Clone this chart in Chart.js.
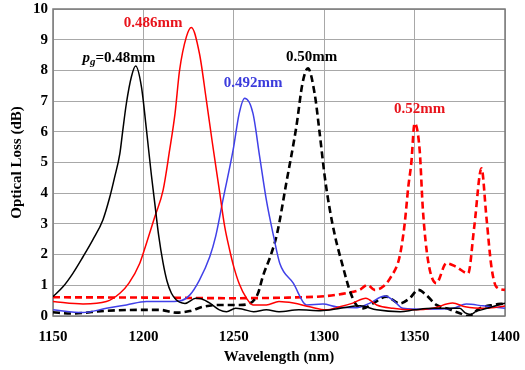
<!DOCTYPE html>
<html>
<head>
<meta charset="utf-8">
<script src="https://cdn.jsdelivr.net/npm/chart.js@4/dist/chart.umd.min.js"></script>
<style>
html,body{margin:0;padding:0;background:#fff;}
#c{display:block;}
</style>
</head>
<body>
<canvas id="c" width="525" height="370"></canvas>
<script>
// ---- data ----
const xTicks = [1150, 1200, 1250, 1300, 1350, 1400];
const yTicks = [0,1,2,3,4,5,6,7,8,9,10];

const wl048   = [1150,1155.5,1161,1166.6,1172,1177.6,1181.3,1184,1187,1188.5,1190.6,1193.4,1195.7,1198.9,1201.7,1204.4,1206.3,1208.5,1210.9,1213,1215.5,1218.3,1220,1223,1229,1232,1237,1242,1246,1251,1255,1261,1268,1275,1286,1298,1309,1320,1329,1342,1350,1360,1375,1378,1381,1384,1387,1393,1400];
const loss048 = [0.63,0.95,1.39,1.93,2.48,3.13,3.85,4.5,5.3,6.0,6.93,7.8,8.14,7.47,6.06,4.6,3.67,2.6,1.72,1.15,0.74,0.52,0.45,0.41,0.58,0.56,0.41,0.2,0.14,0.25,0.22,0.14,0.2,0.14,0.2,0.17,0.25,0.33,0.2,0.14,0.2,0.25,0.25,0.1,0.05,0.15,0.2,0.3,0.42];

const wl0486   = [1150,1166.6,1179.5,1187,1192,1198,1201.7,1206.3,1210.9,1214.5,1217.5,1220,1223.8,1226.5,1231,1234.8,1238,1242,1245,1247.7,1250,1253,1257,1260.6,1268,1275,1283,1292,1301,1308.6,1315.8,1323,1329,1338,1349.5,1360,1371,1378,1389.7,1400];
const loss0486 = [0.47,0.39,0.47,0.74,1.07,1.72,2.37,3.23,4.1,5.4,6.6,8.0,9.1,9.4,8.55,7.04,5.7,4.1,2.9,2.15,1.6,1.05,0.58,0.36,0.36,0.47,0.42,0.3,0.2,0.3,0.42,0.58,0.36,0.25,0.2,0.25,0.42,0.3,0.25,0.33];

const wl0492   = [1150,1166.6,1179.5,1190.6,1201.7,1212.7,1220,1225.6,1231,1236.7,1240,1244,1249.6,1253,1256,1260.6,1264.3,1268,1272,1275.4,1282.9,1290.2,1299.3,1306.7,1317.8,1325,1333.5,1338,1343.6,1356.5,1371,1378.6,1387.8,1400];
const loss0492 = [0.2,0.11,0.25,0.36,0.47,0.47,0.49,0.68,1.17,1.93,2.6,3.78,5.4,6.6,7.09,6.6,5.19,3.78,2.6,1.72,1.07,0.36,0.39,0.3,0.27,0.41,0.65,0.52,0.25,0.22,0.25,0.39,0.33,0.25];

const wl050   = [1150,1160,1179.5,1198,1209,1218,1225.6,1233,1242,1253,1258.8,1263.4,1266,1270.8,1274,1279,1284.6,1288,1291,1294.7,1297.5,1300.3,1303,1306,1310.4,1314,1317.8,1321.5,1327,1334.4,1341.7,1347.3,1352,1356.5,1362,1367.6,1375,1379.6,1386,1393.4,1400];
const loss050 = [0.12,0.08,0.17,0.2,0.2,0.11,0.16,0.3,0.36,0.36,0.41,0.74,1.28,2.04,2.7,4.32,6.17,7.58,8.07,7.25,5.95,4.54,3.5,2.6,1.6,0.85,0.36,0.25,0.41,0.63,0.41,0.58,0.85,0.68,0.36,0.25,0.09,0.0,0.25,0.36,0.41];

const wl052   = [1150,1200,1250,1280,1301,1312,1319.6,1324,1327.8,1332.4,1337,1341.7,1344.5,1346.5,1348.2,1350,1352.8,1354.6,1357.4,1362,1367.6,1373,1379.6,1383,1387,1389.7,1392.5,1395.2,1400];
const loss052 = [0.61,0.6,0.58,0.6,0.65,0.74,0.85,1.01,0.85,0.95,1.28,1.93,3.0,4.2,5.0,6.28,5.4,3.45,1.82,1.07,1.72,1.6,1.39,2.91,4.81,3.23,1.6,0.95,0.85];

const seriesNames = ['0.48mm','0.486mm','0.492mm','0.50mm','0.52mm'];

// ---- helpers ----
const pts = (xs, ys) => xs.map((v, i) => ({x: v, y: ys[i]}));
const FONT = '"Liberation Serif", "Times New Roman", serif';
const RED = '#ff0000', BLUE = '#4040e8', BLACK = '#000000';

const annotations = [
  {text: '0.486mm', x: 1205.4, y: 9.54, color: '#e8141c'},
  {text: '0.492mm', x: 1260.7, y: 7.59, color: '#3c3cdc'},
  {text: '0.50mm',  x: 1293,   y: 8.44, color: '#000'},
  {text: '0.52mm',  x: 1352.8, y: 6.74, color: '#e8141c'},
  {pg: true, text: '=0.48mm', x: 1186.4, y: 8.4, color: '#000'}
];

const labelPlugin = {
  id: 'peakLabels',
  afterDatasetsDraw(chart) {
    const {ctx, scales: {x, y}} = chart;
    ctx.save();
    ctx.textBaseline = 'middle';
    for (const a of annotations) {
      const px = x.getPixelForValue(a.x), py = y.getPixelForValue(a.y);
      ctx.fillStyle = a.color;
      if (!a.pg) {
        ctx.font = 'bold 15px ' + FONT;
        ctx.textAlign = 'center';
        ctx.fillText(a.text, px, py);
      } else {
        const fP = 'italic bold 15px ' + FONT, fG = 'italic bold 11px ' + FONT, fT = 'bold 15px ' + FONT;
        ctx.font = fP; const wP = ctx.measureText('p').width;
        ctx.font = fG; const wG = ctx.measureText('g').width;
        ctx.font = fT; const wT = ctx.measureText(a.text).width;
        let sx = px - (wP + wG + wT) / 2;
        ctx.textAlign = 'left';
        ctx.font = fP; ctx.fillText('p', sx, py); sx += wP;
        ctx.font = fG; ctx.fillText('g', sx, py + 4); sx += wG;
        ctx.font = fT; ctx.fillText(a.text, sx, py);
      }
    }
    ctx.restore();
  }
};

const framePlugin = {
  id: 'frame',
  beforeDatasetsDraw(chart) {
    const {ctx, chartArea: a} = chart;
    ctx.save();
    ctx.strokeStyle = '#7a7a7a';
    ctx.lineWidth = 1.5;
    ctx.strokeRect(a.left, a.top, a.right - a.left, a.bottom - a.top);
    ctx.restore();
  }
};

const solid = (data, color, label) => ({
  label, data, borderColor: color, borderWidth: 1.5, pointRadius: 0,
  cubicInterpolationMode: 'monotone', fill: false
});
const dashed = (data, color, label) => ({
  label, data, borderColor: color, borderWidth: 2.6, borderDash: [7, 4], pointRadius: 0,
  cubicInterpolationMode: 'monotone', fill: false
});

new Chart(document.getElementById('c'), {
  type: 'line',
  data: {
    datasets: [
      solid(pts(wl048, loss048), BLACK, seriesNames[0]),
      solid(pts(wl0486, loss0486), RED, seriesNames[1]),
      solid(pts(wl0492, loss0492), BLUE, seriesNames[2]),
      dashed(pts(wl050, loss050), BLACK, seriesNames[3]),
      dashed(pts(wl052, loss052), RED, seriesNames[4])
    ]
  },
  options: {
    responsive: false,
    animation: false,
    events: [],
    layout: {padding: {top: 9, right: 20, left: 0, bottom: 0}},
    plugins: {legend: {display: false}, tooltip: {enabled: false}},
    scales: {
      x: {
        type: 'linear', min: xTicks[0], max: xTicks[xTicks.length - 1],
        afterBuildTicks: s => { s.ticks = xTicks.map(v => ({value: v})); },
        afterFit: s => { s.height = 54; s.paddingLeft = 0; s.paddingRight = 0; },
        ticks: {color: '#000', font: {family: FONT, size: 15, weight: 'bold'}, padding: 12, maxRotation: 0,
                callback: v => String(v)},
        grid: {color: '#a8a8a8', lineWidth: 1, drawTicks: false},
        border: {display: false},
        title: {display: true, text: 'Wavelength (nm)', color: '#000',
                font: {family: FONT, size: 15, weight: 'bold'}, padding: {top: 0, bottom: 4}}
      },
      y: {
        type: 'linear', min: yTicks[0], max: yTicks[yTicks.length - 1],
        afterBuildTicks: s => { s.ticks = yTicks.map(v => ({value: v})); },
        afterFit: s => { s.width = 53; s.paddingTop = 0; s.paddingBottom = 0; },
        ticks: {color: '#000', font: {family: FONT, size: 15, weight: 'bold'}, padding: 5,
                callback: v => String(v)},
        grid: {color: '#a8a8a8', lineWidth: 1, drawTicks: false},
        border: {display: false},
        title: {display: true, text: 'Optical Loss (dB)', color: '#000',
                font: {family: FONT, size: 15, weight: 'bold'}, padding: {top: 8, bottom: 0}}
      }
    }
  },
  plugins: [framePlugin, labelPlugin]
});
</script>
</body>
</html>
